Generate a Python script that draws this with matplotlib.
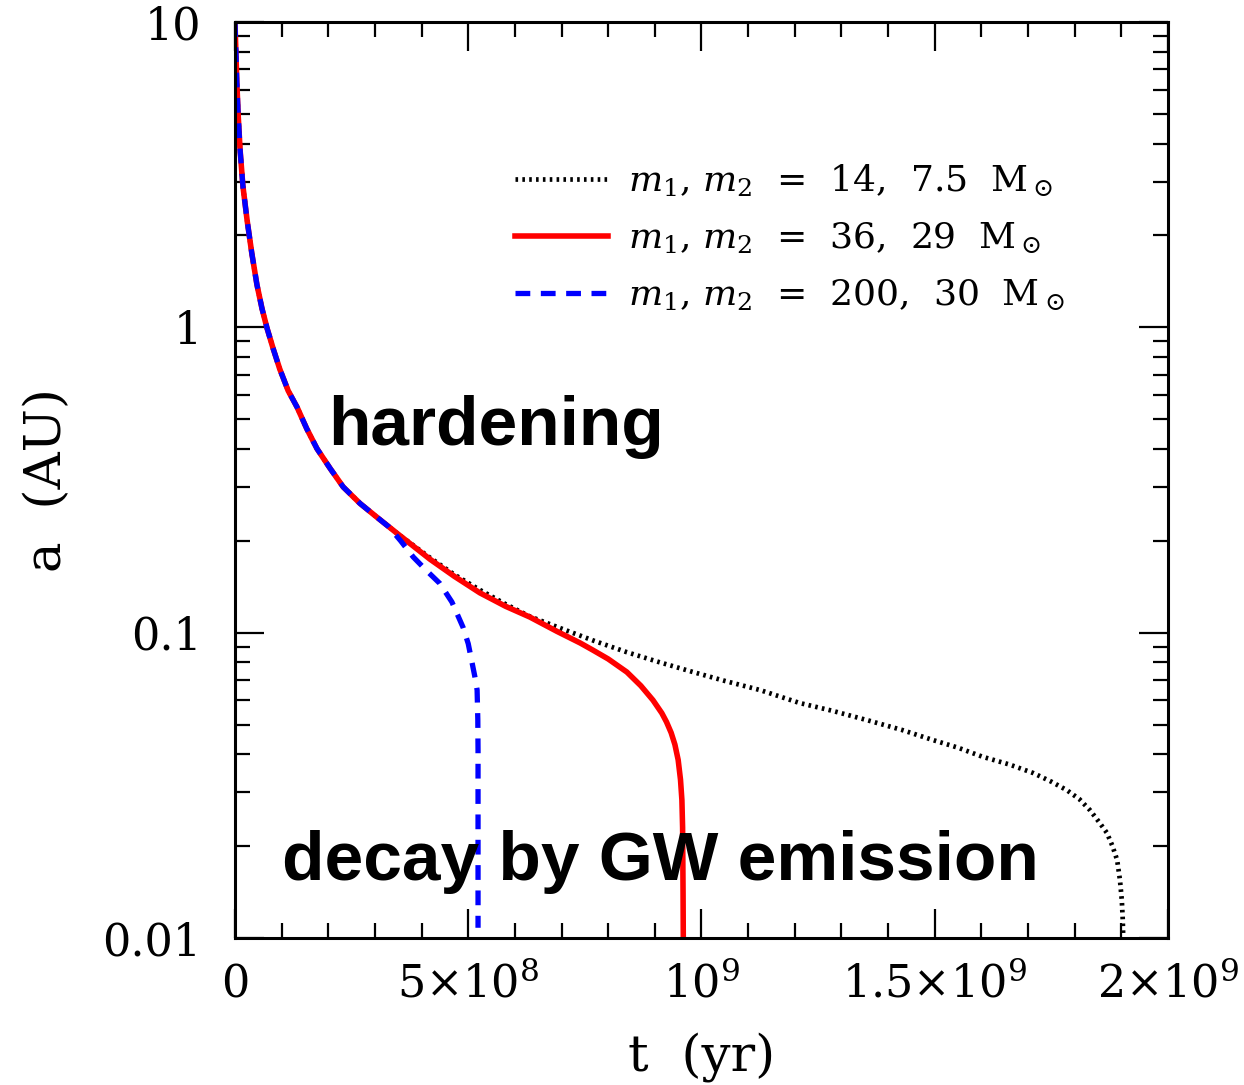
import numpy as np
import matplotlib
matplotlib.use("Agg")
import matplotlib.pyplot as plt
from matplotlib.ticker import MultipleLocator, LogLocator, NullFormatter

plt.rcParams['font.family'] = ['DejaVu Serif']
plt.rcParams['mathtext.fontset'] = 'dejavuserif'

# shared early hardening phase (t in units of 1e9 yr, a in AU)
t_early = [0.0, 0.002, 0.004, 0.007, 0.011, 0.017, 0.026, 0.036, 0.047, 0.058, 0.069,
           0.082, 0.096, 0.114, 0.133, 0.154, 0.176, 0.204, 0.232, 0.268, 0.304]
a_early = [10.0, 7.9, 6.3, 4.9, 3.8, 2.9, 2.24, 1.75, 1.38, 1.15, 0.99,
           0.85, 0.73, 0.62, 0.548, 0.465, 0.40, 0.345, 0.30, 0.265, 0.239]

# m1, m2 = 14, 7.5
t_14 = t_early + [0.35, 0.418, 0.47, 0.525, 0.58, 0.632, 0.697, 0.77, 0.840, 0.91, 0.982,
                  1.05, 1.125, 1.211, 1.28, 1.355, 1.43, 1.496, 1.55, 1.603, 1.66, 1.711,
                  1.75, 1.783, 1.81, 1.833, 1.852, 1.869, 1.881, 1.891, 1.897, 1.901, 1.903, 1.904]
a_14 = a_early + [0.21, 0.176, 0.155, 0.138, 0.124, 0.113, 0.1035, 0.094, 0.0863, 0.080, 0.0743,
                  0.0695, 0.0649, 0.0588, 0.0555, 0.0517, 0.048, 0.0445, 0.042, 0.0392, 0.037, 0.0347,
                  0.0325, 0.0305, 0.0285, 0.0262, 0.024, 0.0221, 0.020, 0.018, 0.0155, 0.0133, 0.0115, 0.010]

# m1, m2 = 36, 29
t_36 = t_early + [0.35, 0.418, 0.47, 0.525, 0.58, 0.632, 0.69, 0.740, 0.767, 0.80, 0.840,
                  0.87, 0.896, 0.915, 0.925, 0.935, 0.943, 0.950, 0.955, 0.958, 0.9595, 0.960, 0.9605, 0.961]
a_36 = a_early + [0.21, 0.174, 0.153, 0.135, 0.122, 0.1125, 0.101, 0.0925, 0.0877, 0.082, 0.0743,
                  0.067, 0.0601, 0.0545, 0.051, 0.047, 0.043, 0.0383, 0.033, 0.0283, 0.023, 0.018, 0.014, 0.010]

# m1, m2 = 200, 30
t_200 = t_early + [0.33, 0.355, 0.382, 0.41, 0.439, 0.465, 0.489, 0.500, 0.508, 0.514,
                   0.519, 0.5205, 0.521, 0.521]
a_200 = a_early + [0.222, 0.20, 0.177, 0.160, 0.145, 0.126, 0.104, 0.092, 0.080, 0.072,
                   0.0649, 0.052, 0.0412, 0.0108]

labels = [r'$m_1$, $m_2$  =  14,  7.5  M$_\odot$',
          r'$m_1$, $m_2$  =  36,  29  M$_\odot$',
          r'$m_1$, $m_2$  =  200,  30  M$_\odot$']

xticks = [0, 5e8, 1e9, 1.5e9, 2e9]
xticklabels = ['0', r'$5{\times}10^8$', r'$10^9$', r'$1.5{\times}10^9$', r'$2{\times}10^9$']
yticks = [0.01, 0.1, 1, 10]
yticklabels = ['0.01', '0.1', '1', '10']

fig = plt.figure(figsize=(12.44, 10.85), dpi=100)
ax = fig.add_axes([0.1889, 0.1355, 0.75, 0.8442])

ax.plot(np.array(t_14) * 1e9, a_14, color='black', lw=3.4, ls=(0, (0.55, 0.9)), label=labels[0])
ax.plot(np.array(t_36) * 1e9, a_36, color='red', lw=4.0, ls='-', label=labels[1])
ax.plot(np.array(t_200) * 1e9, a_200, color='blue', lw=3.8, ls=(0, (2.8, 2.0)), label=labels[2])

ax.set_yscale('log')
ax.set_xlim(0, 2e9)
ax.set_ylim(0.01, 10)

ax.set_xticks(xticks)
ax.set_xticklabels(xticklabels)
ax.xaxis.set_minor_locator(MultipleLocator(1e8))
ax.set_yticks(yticks)
ax.set_yticklabels(yticklabels)
ax.yaxis.set_minor_locator(LogLocator(base=10, subs=np.arange(2, 10)))
ax.yaxis.set_minor_formatter(NullFormatter())

ax.tick_params(which='both', direction='in', top=True, right=True, width=1.6, labelsize=32)
ax.tick_params(which='major', length=21)
ax.tick_params(which='minor', length=10.5)
ax.tick_params(axis='y', which='major', pad=24)
ax.tick_params(axis='x', which='major', pad=18)
for s in ax.spines.values():
    s.set_linewidth(2.2)

ax.set_xlabel('t  (yr)', fontsize=37, labelpad=18)
ax.set_ylabel('a  (AU)', fontsize=37, labelpad=22)

ax.text(0.199e9, 0.411, 'hardening', fontsize=50, fontweight='bold',
        family='Liberation Sans', va='baseline', ha='left')
ax.text(0.101e9, 0.0155, 'decay by GW emission', fontsize=50, fontweight='bold',
        family='Liberation Sans', va='baseline', ha='left')

ax.legend(loc='upper left', bbox_to_anchor=(0.300, 0.847), frameon=False, fontsize=26,
          handlelength=2.57, handletextpad=0.55, labelspacing=0.6, borderpad=0,
          borderaxespad=0)

fig.savefig('out.png', dpi=100)
